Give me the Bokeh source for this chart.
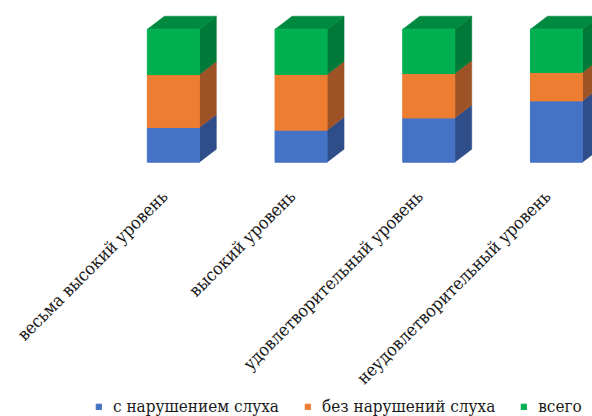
import numpy as np
from bokeh.plotting import figure
from bokeh.models import ColumnDataSource, Range1d, Legend, LegendItem
from bokeh.core.properties import value
from bokeh.embed import file_html
from bokeh.resources import INLINE

# ---- data ----
categories = ["весьма высокий уровень", "высокий уровень",
              "удовлетворительный уровень", "неудовлетворительный уровень"]
series_names = ["с нарушением слуха", "без нарушений слуха", "всего"]
hearing_impaired = [26.1, 24.1, 33.3, 46.1]
no_impairment = [39.8, 41.9, 33.4, 21.4]
total_all = [34.1, 34.0, 33.3, 32.5]

# ---- styling ----
front_colors = ["#4472C4", "#ED7D31", "#00B050"]
side_colors = ["#2E4D89", "#9E5326", "#007A38"]
top_color = "#008A3F"
FONT = "DejaVu Serif Condensed"

W, H = 592, 416
px_per_x = 127.7
px_per_y = 1.33
x0_px = 172.85
base_px = 161.7

x_start = -x0_px / px_per_x
x_end = x_start + W / px_per_x
y_end = base_px / px_per_y
y_start = y_end - H / px_per_y

bw = 52 / px_per_x
dx = 17 / px_per_x
dy = 13 / px_per_y

xs_idx = np.arange(len(categories), dtype=float)
series = [hearing_impaired, no_impairment, total_all]
keys = ["s0", "s1", "s2"]
src = ColumnDataSource(dict(x=xs_idx, s0=hearing_impaired, s1=no_impairment, s2=total_all))

p = figure(width=W, height=H, x_range=Range1d(x_start, x_end),
           y_range=Range1d(y_start, y_end), output_backend="svg",
           toolbar_location=None, min_border=0,
           x_axis_location=None, y_axis_location=None)
p.grid.visible = False
p.outline_line_color = None
p.background_fill_color = "white"

# side faces of each stacked segment
bottom = np.zeros(len(categories))
for k, vals in enumerate(series):
    vals = np.asarray(vals, dtype=float)
    top = bottom + vals
    sx, sy = [], []
    for i, xc in enumerate(xs_idx):
        xr = xc + bw / 2
        sx.append([xr, xr + dx, xr + dx, xr])
        sy.append([bottom[i], bottom[i] + dy, top[i] + dy, top[i]])
    p.patches(sx, sy, fill_color=side_colors[k], line_color=side_colors[k], line_width=0.5)
    bottom = top

# top faces
tx, ty = [], []
for i, xc in enumerate(xs_idx):
    xl, xr = xc - bw / 2, xc + bw / 2
    T = bottom[i]
    tx.append([xl, xl + dx, xr + dx, xr])
    ty.append([T, T + dy, T + dy, T])
p.patches(tx, ty, fill_color=top_color, line_color=top_color, line_width=0.5)

# front faces
rs = p.vbar_stack(keys, x="x", width=bw, color=front_colors, source=src)

# category labels
lab_src = ColumnDataSource(dict(x=xs_idx - 0.069, y=np.full(len(categories), -23.5),
                                text=categories))
p.text(x="x", y="y", text="text", source=lab_src,
       angle=np.pi / 4, text_align="right", text_baseline="middle",
       text_font=value(FONT), text_font_size="17.5px", text_color="#1a1a1a")

legend = Legend(items=[LegendItem(label=n, renderers=[r]) for n, r in zip(series_names, rs)],
                orientation="horizontal", location=(95, 0),
                glyph_width=7, glyph_height=7, label_standoff=11, spacing=25,
                padding=0, margin=0, border_line_color=None, background_fill_alpha=0,
                label_text_font=FONT, label_text_font_size="17px",
                label_text_color="#1a1a1a")
p.add_layout(legend)

open("out.html", "w").write(file_html(p, INLINE))
